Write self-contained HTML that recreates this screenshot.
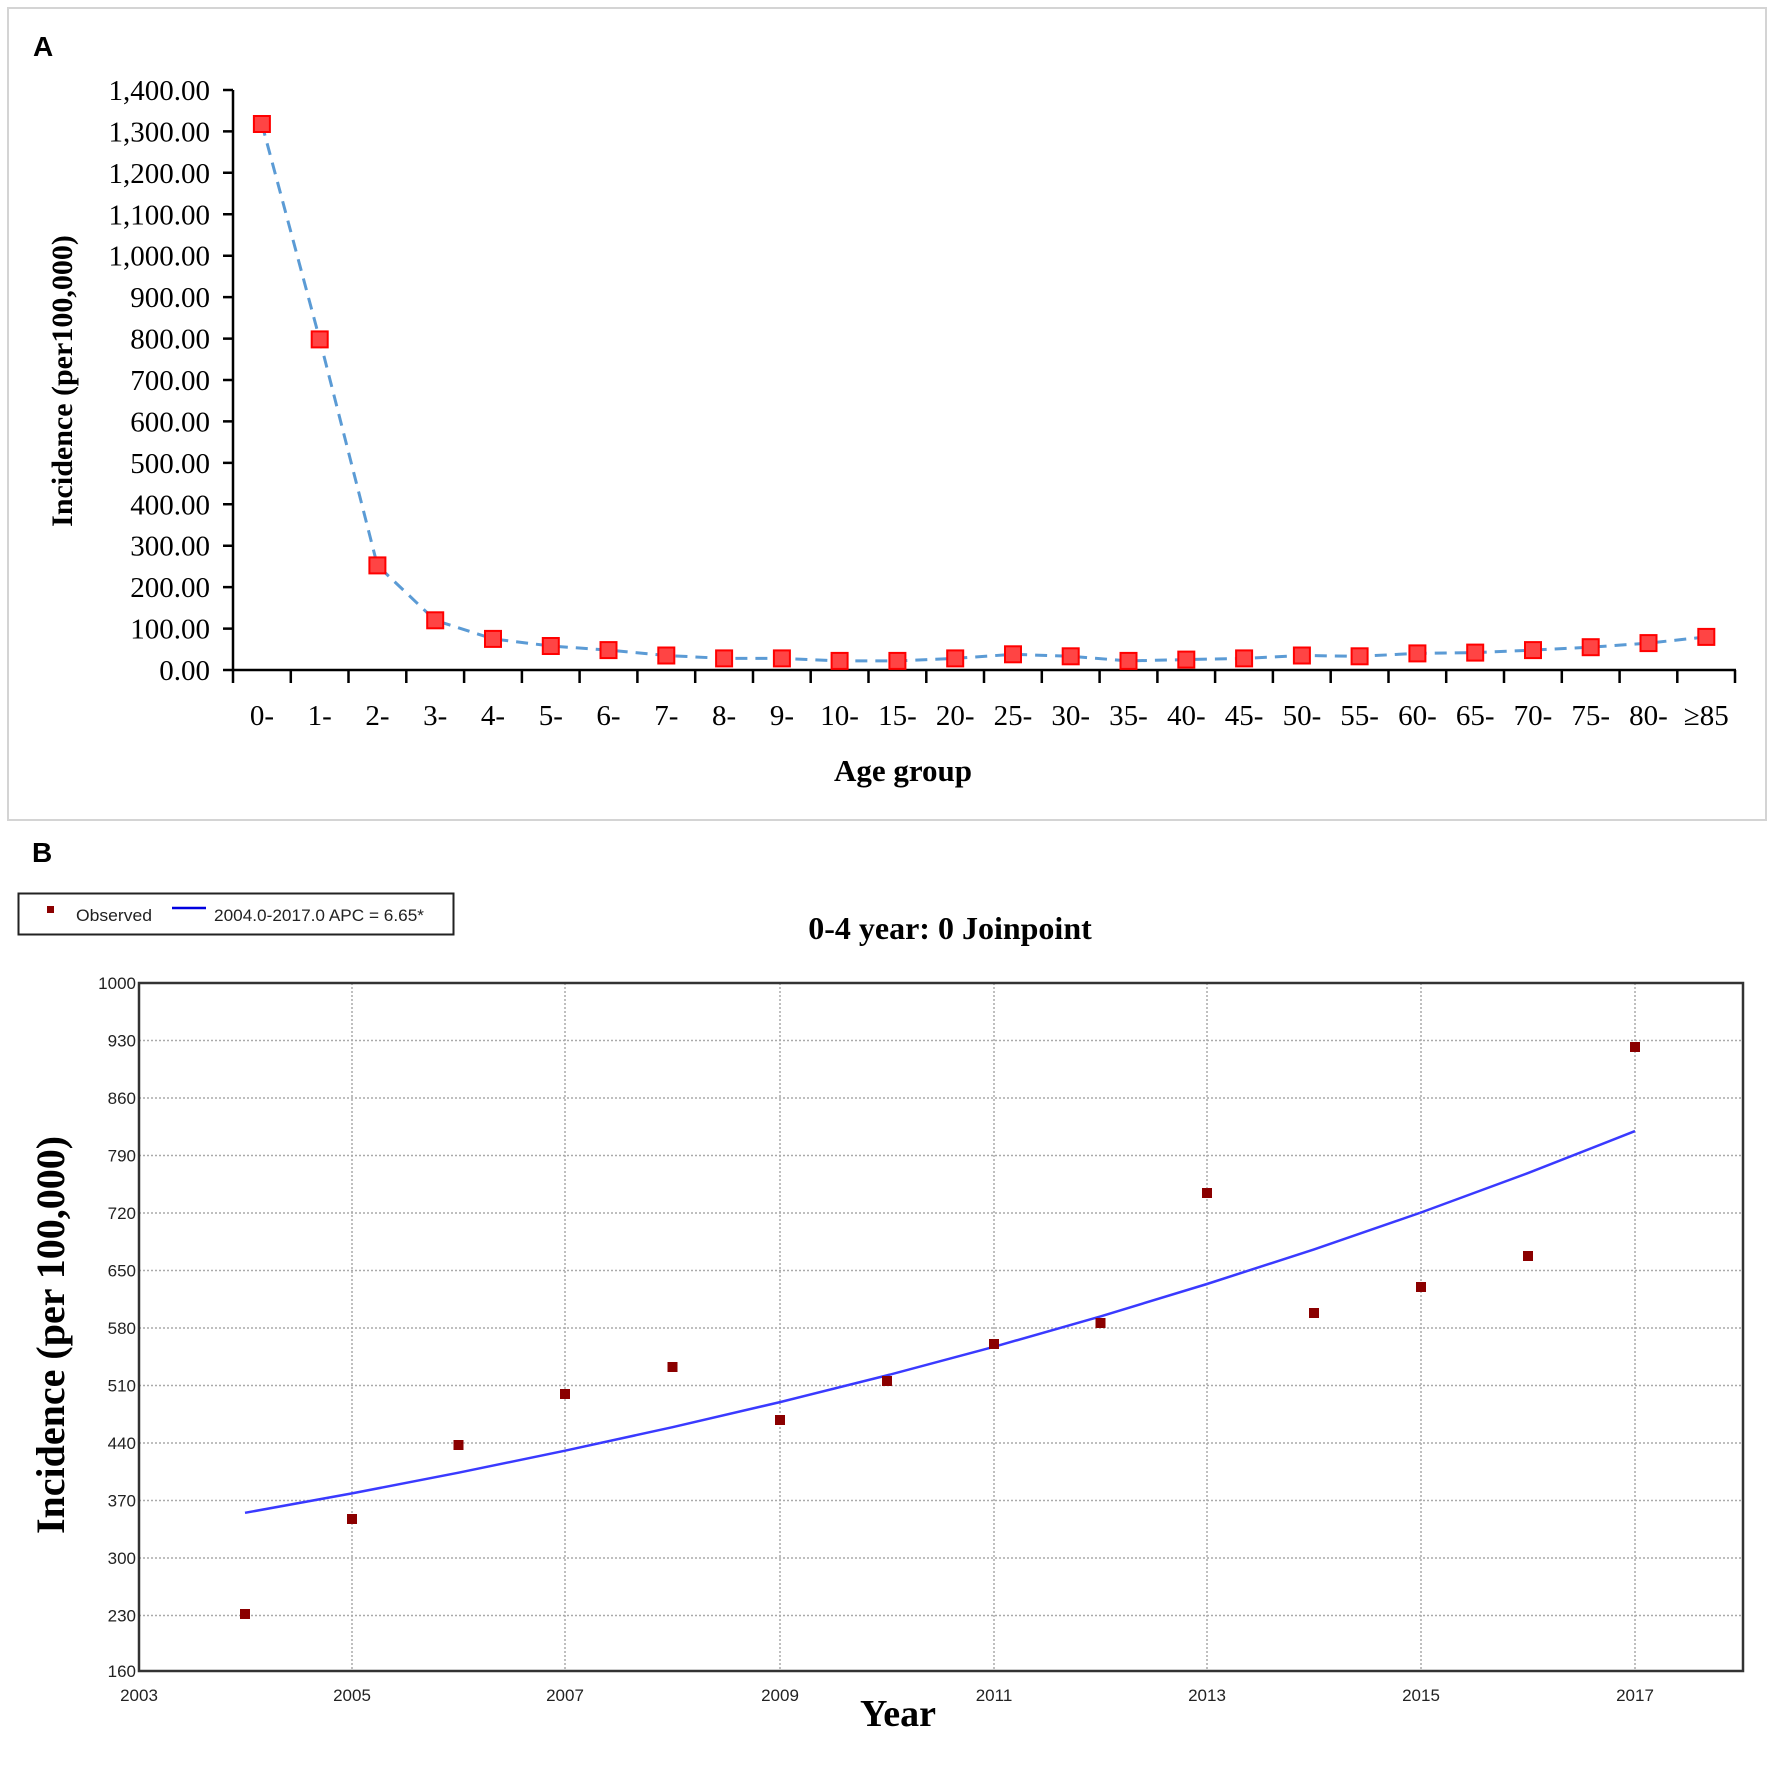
<!DOCTYPE html>
<html><head><meta charset="utf-8"><style>
html,body{margin:0;padding:0;background:#fff;}
svg{display:block;}
</style></head><body>
<svg width="1772" height="1778" viewBox="0 0 1772 1778" xmlns="http://www.w3.org/2000/svg">
<rect x="0" y="0" width="1772" height="1778" fill="#fff"/>
<!-- Panel A -->
<rect x="8" y="8" width="1758" height="812" fill="none" stroke="#d4d4d4" stroke-width="2"/>
<text x="33" y="56" font-family="Liberation Sans, sans-serif" font-weight="bold" font-size="28">A</text>
<g stroke="#000" stroke-width="2.5" fill="none">
<line x1="233" y1="90" x2="233" y2="671"/>
<line x1="232" y1="670" x2="1736" y2="670"/>
<path d="M223 90H233M223 131.4H233M223 172.8H233M223 214.3H233M223 255.7H233M223 297.1H233M223 338.6H233M223 380H233M223 421.4H233M223 462.9H233M223 504.3H233M223 545.7H233M223 587.1H233M223 628.6H233M223 670H233"/>
<path d="M233 670V683M290.8 670V683M348.5 670V683M406.3 670V683M464.1 670V683M521.9 670V683M579.6 670V683M637.4 670V683M695.2 670V683M753 670V683M810.7 670V683M868.5 670V683M926.3 670V683M984 670V683M1041.8 670V683M1099.6 670V683M1157.4 670V683M1215.1 670V683M1272.9 670V683M1330.7 670V683M1388.5 670V683M1446.2 670V683M1504 670V683M1561.8 670V683M1619.6 670V683M1677.3 670V683M1735 670V683"/>
</g>
<g font-family="Liberation Serif, serif" font-size="29" text-anchor="end" fill="#000">
<text x="210" y="100">1,400.00</text><text x="210" y="141.4">1,300.00</text><text x="210" y="182.8">1,200.00</text><text x="210" y="224.3">1,100.00</text><text x="210" y="265.7">1,000.00</text><text x="210" y="307.1">900.00</text><text x="210" y="348.6">800.00</text><text x="210" y="390">700.00</text><text x="210" y="431.4">600.00</text><text x="210" y="472.9">500.00</text><text x="210" y="514.3">400.00</text><text x="210" y="555.7">300.00</text><text x="210" y="597.1">200.00</text><text x="210" y="638.6">100.00</text><text x="210" y="680">0.00</text>
</g>
<g font-family="Liberation Serif, serif" font-size="29" text-anchor="middle" fill="#000">
<text x="261.9" y="725">0-</text><text x="319.7" y="725">1-</text><text x="377.4" y="725">2-</text><text x="435.2" y="725">3-</text><text x="493" y="725">4-</text><text x="550.8" y="725">5-</text><text x="608.5" y="725">6-</text><text x="666.3" y="725">7-</text><text x="724.1" y="725">8-</text><text x="781.9" y="725">9-</text><text x="839.6" y="725">10-</text><text x="897.4" y="725">15-</text><text x="955.2" y="725">20-</text><text x="1013" y="725">25-</text><text x="1070.7" y="725">30-</text><text x="1128.5" y="725">35-</text><text x="1186.3" y="725">40-</text><text x="1244.1" y="725">45-</text><text x="1301.9" y="725">50-</text><text x="1359.6" y="725">55-</text><text x="1417.4" y="725">60-</text><text x="1475.2" y="725">65-</text><text x="1533" y="725">70-</text><text x="1590.7" y="725">75-</text><text x="1648.5" y="725">80-</text><text x="1706.3" y="725">≥85</text>
</g>
<text x="903" y="781" font-family="Liberation Serif, serif" font-weight="bold" font-size="31" text-anchor="middle">Age group</text>
<text transform="translate(72,381) rotate(-90)" font-family="Liberation Serif, serif" font-weight="bold" font-size="30" text-anchor="middle">Incidence (per100,000)</text>
<polyline fill="none" stroke="#5b9bd5" stroke-width="3" stroke-dasharray="12,8" points="261.9,124 319.7,339.4 377.4,565.4 435.2,620.3 493,638.9 550.8,646 608.5,650.1 666.3,655.5 724.1,658.4 781.9,658.4 839.6,660.9 897.4,660.9 955.2,658.4 1013,654.3 1070.7,656.3 1128.5,660.9 1186.3,659.6 1244.1,658.4 1301.9,655.5 1359.6,656.3 1417.4,653.4 1475.2,652.6 1533,650.1 1590.7,647.2 1648.5,643.1 1706.3,636.9"/>
<g fill="#f44" stroke="#f00" stroke-width="2">
<rect x="253.9" y="116" width="16" height="16"/><rect x="311.7" y="331.4" width="16" height="16"/><rect x="369.4" y="557.4" width="16" height="16"/><rect x="427.2" y="612.3" width="16" height="16"/><rect x="485" y="630.9" width="16" height="16"/><rect x="542.8" y="638" width="16" height="16"/><rect x="600.5" y="642.1" width="16" height="16"/><rect x="658.3" y="647.5" width="16" height="16"/><rect x="716.1" y="650.4" width="16" height="16"/><rect x="773.9" y="650.4" width="16" height="16"/><rect x="831.6" y="652.9" width="16" height="16"/><rect x="889.4" y="652.9" width="16" height="16"/><rect x="947.2" y="650.4" width="16" height="16"/><rect x="1005" y="646.3" width="16" height="16"/><rect x="1062.7" y="648.3" width="16" height="16"/><rect x="1120.5" y="652.9" width="16" height="16"/><rect x="1178.3" y="651.6" width="16" height="16"/><rect x="1236.1" y="650.4" width="16" height="16"/><rect x="1293.9" y="647.5" width="16" height="16"/><rect x="1351.6" y="648.3" width="16" height="16"/><rect x="1409.4" y="645.4" width="16" height="16"/><rect x="1467.2" y="644.6" width="16" height="16"/><rect x="1525" y="642.1" width="16" height="16"/><rect x="1582.7" y="639.2" width="16" height="16"/><rect x="1640.5" y="635.1" width="16" height="16"/><rect x="1698.3" y="628.9" width="16" height="16"/>
</g>
<!-- Panel B -->
<text x="32" y="862" font-family="Liberation Sans, sans-serif" font-weight="bold" font-size="28">B</text>
<rect x="18.5" y="893.5" width="435" height="41" fill="#fff" stroke="#222" stroke-width="2"/>
<rect x="47" y="906" width="7" height="7" fill="#8b0000"/>
<text x="76" y="921" font-family="Liberation Sans, sans-serif" font-size="17" fill="#222" textLength="76" lengthAdjust="spacingAndGlyphs">Observed</text>
<line x1="172" y1="908" x2="206" y2="908" stroke="#0000e0" stroke-width="2.5"/>
<text x="214" y="921" font-family="Liberation Sans, sans-serif" font-size="17" fill="#222" textLength="210" lengthAdjust="spacingAndGlyphs">2004.0-2017.0 APC  = 6.65*</text>
<text x="950" y="939" font-family="Liberation Serif, serif" font-weight="bold" font-size="32" text-anchor="middle">0-4 year: 0 Joinpoint</text>
<g stroke="#aaa" stroke-width="1.5" stroke-dasharray="2,2">
<path d="M139 1615.5H1743M139 1558H1743M139 1500.5H1743M139 1443H1743M139 1385.5H1743M139 1328H1743M139 1270.5H1743M139 1213H1743M139 1155.5H1743M139 1098H1743M139 1040.5H1743"/>
<path d="M352 983V1671M565 983V1671M780 983V1671M994 983V1671M1207 983V1671M1421 983V1671M1635 983V1671"/>
</g>
<rect x="139" y="983" width="1604" height="688" fill="none" stroke="#333" stroke-width="2.5"/>
<g font-family="Liberation Sans, sans-serif" font-size="17" fill="#222" text-anchor="end">
<text x="136" y="989">1000</text><text x="136" y="1046.5">930</text><text x="136" y="1104">860</text><text x="136" y="1161.5">790</text><text x="136" y="1219">720</text><text x="136" y="1276.5">650</text><text x="136" y="1334">580</text><text x="136" y="1391.5">510</text><text x="136" y="1449">440</text><text x="136" y="1506.5">370</text><text x="136" y="1564">300</text><text x="136" y="1621.5">230</text><text x="136" y="1677">160</text>
</g>
<g font-family="Liberation Sans, sans-serif" font-size="17" fill="#222" text-anchor="middle">
<text x="139" y="1701">2003</text><text x="352" y="1701">2005</text><text x="565" y="1701">2007</text><text x="780" y="1701">2009</text><text x="994" y="1701">2011</text><text x="1207" y="1701">2013</text><text x="1421" y="1701">2015</text><text x="1635" y="1701">2017</text>
</g>
<text x="898" y="1726" font-family="Liberation Serif, serif" font-weight="bold" font-size="38" text-anchor="middle">Year</text>
<text transform="translate(64,1335) rotate(-90)" font-family="Liberation Serif, serif" font-weight="bold" font-size="40" text-anchor="middle">Incidence (per 100,000)</text>
<polyline fill="none" stroke="#3a3aff" stroke-width="2.5" points="245,1512.8 352,1493.4 458.5,1472.7 565,1450.7 672.5,1427.2 780,1402.1 887,1375.4 994,1346.8 1100.5,1316.4 1207,1284 1314,1249.4 1421,1212.5 1528,1173.1 1635,1131.1"/>
<g fill="#8b0000">
<rect x="240" y="1609" width="10" height="10"/><rect x="347" y="1514" width="10" height="10"/><rect x="453.5" y="1440" width="10" height="10"/><rect x="560" y="1389" width="10" height="10"/><rect x="667.5" y="1362" width="10" height="10"/><rect x="775" y="1415" width="10" height="10"/><rect x="882" y="1376" width="10" height="10"/><rect x="989" y="1339" width="10" height="10"/><rect x="1095.5" y="1318" width="10" height="10"/><rect x="1202" y="1188" width="10" height="10"/><rect x="1309" y="1308" width="10" height="10"/><rect x="1416" y="1282" width="10" height="10"/><rect x="1523" y="1251" width="10" height="10"/><rect x="1630" y="1042" width="10" height="10"/>
</g>
</svg>
</body></html>
